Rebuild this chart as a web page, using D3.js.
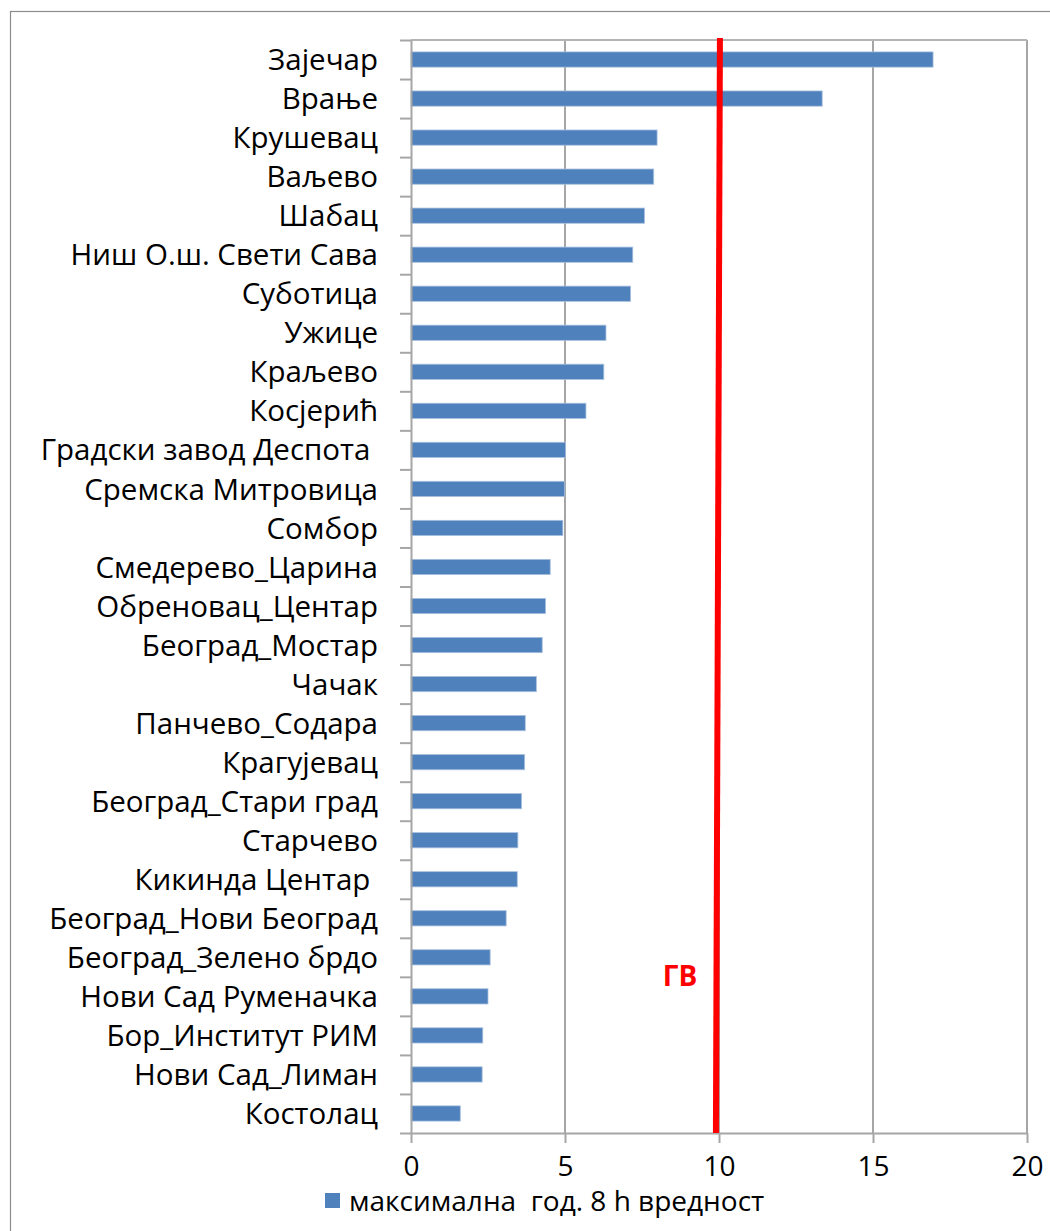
<!doctype html>
<html lang="sr">
<head>
  <meta charset="utf-8">
  <title>максимална год. 8 h вредност</title>
  <style>
    html, body { margin: 0; padding: 0; background: #fff; }
    svg text { font-family: "Open Sans", "Noto Sans", sans-serif; fill: #000; white-space: pre; }
  </style>
</head>
<body>
  <div id="chart"></div>
  <script src="https://d3js.org/d3.v7.min.js"></script>
  <script>
    // Data ---------------------------------------------------------------------------
    const stations = [
      "Зајечар", "Врање", "Крушевац", "Ваљево", "Шабац", "Ниш О.ш. Свети Сава",
      "Суботица", "Ужице", "Краљево", "Косјерић", "Градски завод Деспота ",
      "Сремска Митровица", "Сомбор", "Смедерево_Царина", "Обреновац_Центар",
      "Београд_Мостар", "Чачак", "Панчево_Содара", "Крагујевац", "Београд_Стари град",
      "Старчево", "Кикинда Центар ", "Београд_Нови Београд", "Београд_Зелено брдо",
      "Нови Сад Руменачка", "Бор_Институт РИМ", "Нови Сад_Лиман", "Костолац"
    ];
    const maxValues = [
      16.95, 13.35, 7.99, 7.88, 7.58, 7.20,
      7.13, 6.33, 6.26, 5.68, 5.02,
      4.99, 4.93, 4.52, 4.37,
      4.26, 4.07, 3.71, 3.69, 3.59,
      3.47, 3.45, 3.09, 2.57,
      2.50, 2.33, 2.31, 1.60
    ];
    const xTicks = [0, 5, 10, 15, 20];
    // limit value line (ГВ), as drawn: slightly slanted
    const limitTop = 10.03;
    const limitBottom = 9.9;
    const limitLabel = "ГВ";
    const seriesName = "максимална  год. 8 h вредност";

    // Canvas -------------------------------------------------------------------------
    const width = 1050;
    const height = 1231;
    const plot = { left: 411, right: 1027, top: 40, bottom: 1133 };
    const fontSize = "28px";

    const svg = d3.select("#chart")
      .append("svg")
      .attr("width", width)
      .attr("height", height)
      .attr("viewBox", [0, 0, width, height]);

    // outer chart border (runs off the right and bottom edges)
    svg.append("rect")
      .attr("x", 10.5)
      .attr("y", 11.5)
      .attr("width", 1100)
      .attr("height", 1300)
      .style("fill", "none")
      .style("stroke", "#8c8c8c")
      .style("stroke-width", 1.2);

    // Scales -------------------------------------------------------------------------
    const x = d3.scaleLinear()
      .domain([0, 20])
      .range([plot.left, plot.right]);

    const y = d3.scaleBand()
      .domain(stations)
      .range([plot.top, plot.bottom])
      .paddingInner(0.61)
      .paddingOuter(0.305);

    const yEdges = d3.scaleLinear()
      .domain([0, stations.length])
      .range([plot.top, plot.bottom]);

    const gridColor = "#a6a6a6";

    // Gridlines + plot border ----------------------------------------------------------
    svg.append("g")
      .selectAll("line")
      .data(xTicks.slice(1))
      .join("line")
      .attr("x1", d => x(d))
      .attr("x2", d => x(d))
      .attr("y1", plot.top)
      .attr("y2", plot.bottom)
      .style("stroke", gridColor)
      .style("stroke-width", 2);

    svg.append("line")
      .attr("x1", plot.left)
      .attr("x2", plot.right)
      .attr("y1", plot.top)
      .attr("y2", plot.top)
      .style("stroke", "#b4b4b4")
      .style("stroke-width", 2);

    // Bars ---------------------------------------------------------------------------
    svg.append("g")
      .selectAll("rect")
      .data(stations.map((s, i) => ({ name: s, value: maxValues[i] })))
      .join("rect")
      .attr("x", x(0))
      .attr("y", d => y(d.name))
      .attr("width", d => x(d.value) - x(0))
      .attr("height", y.bandwidth())
      .style("fill", "#4f81bd")
      .style("stroke", "#a9c0de")
      .style("stroke-width", 0.8);

    // Axes ---------------------------------------------------------------------------
    const xAxis = svg.append("g")
      .attr("transform", "translate(0," + plot.bottom + ")")
      .call(d3.axisBottom(x).tickValues(xTicks).tickSize(10).tickPadding(13).tickSizeOuter(0));

    xAxis.select(".domain").style("stroke", gridColor).style("stroke-width", 2);
    xAxis.selectAll("line").style("stroke", gridColor).style("stroke-width", 2);
    xAxis.selectAll("text")
      .style("font-size", fontSize)
      .attr("dy", "0.71em");

    const yAxis = svg.append("g")
      .attr("transform", "translate(" + plot.left + ",0)")
      .call(d3.axisLeft(yEdges).tickValues(d3.range(stations.length + 1)).tickFormat("").tickSize(11).tickSizeOuter(0));

    yAxis.select(".domain").style("stroke", gridColor).style("stroke-width", 2);
    yAxis.selectAll("line").style("stroke", gridColor).style("stroke-width", 2);

    svg.append("g")
      .selectAll("text")
      .data(stations)
      .join("text")
      .attr("x", 378)
      .attr("y", d => y(d) + y.bandwidth() / 2)
      .attr("dy", "0.36em")
      .attr("text-anchor", "end")
      .style("font-size", "29.5px")
      .text(d => d);

    // Limit line ---------------------------------------------------------------------
    svg.append("line")
      .attr("x1", x(limitTop))
      .attr("y1", plot.top - 2)
      .attr("x2", x(limitBottom))
      .attr("y2", plot.bottom)
      .style("stroke", "#ff0000")
      .style("stroke-width", 6);

    svg.append("text")
      .attr("x", 680)
      .attr("y", 986)
      .attr("text-anchor", "middle")
      .style("font-size", fontSize)
      .style("font-weight", "bold")
      .style("fill", "#ff0000")
      .text(limitLabel);

    // Legend -------------------------------------------------------------------------
    const legend = svg.append("g").attr("transform", "translate(325,1193)");
    legend.append("rect")
      .attr("width", 15)
      .attr("height", 15)
      .style("fill", "#4f81bd");
    legend.append("text")
      .attr("x", 24)
      .attr("y", 8)
      .attr("dy", "0.36em")
      .style("font-size", fontSize)
      .text(seriesName);
  </script>
</body>
</html>
